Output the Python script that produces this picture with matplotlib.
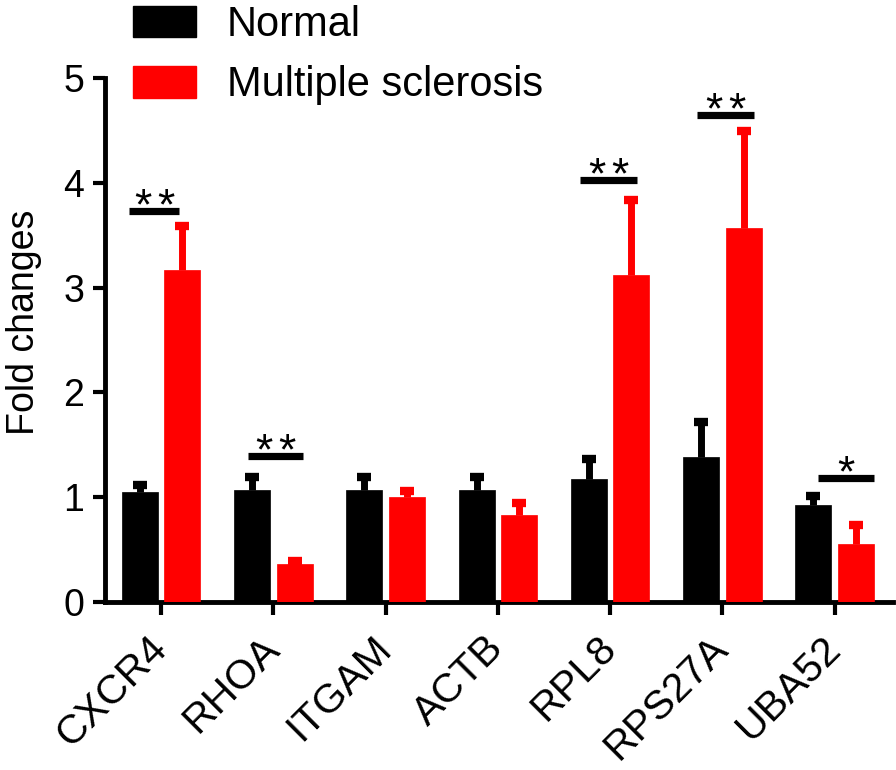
import numpy as np
import matplotlib
matplotlib.use("Agg")
import matplotlib.pyplot as plt
from matplotlib.patches import Patch

plt.rcParams['font.family'] = ['Liberation Sans', 'DejaVu Sans']

genes = ["CXCR4", "RHOA", "ITGAM", "ACTB", "RPL8", "RPS27A", "UBA52"]
normal = [1.05, 1.07, 1.07, 1.07, 1.17, 1.38, 0.93]
normal_err = [0.07, 0.12, 0.12, 0.12, 0.19, 0.34, 0.08]
ms = [3.17, 0.36, 1.00, 0.83, 3.12, 3.57, 0.55]
ms_err = [0.42, 0.03, 0.06, 0.11, 0.72, 0.92, 0.18]
series_names = ["Normal", "Multiple sclerosis"]
yticks = [0, 1, 2, 3, 4, 5]

# significance annotations: gene index, bar height, number of stars, left/right extent
sig_idx = [0, 1, 4, 5, 6]
sig_y = [3.73, 1.39, 4.03, 4.65, 1.18]
sig_stars = [2, 2, 2, 2, 1]
sig_left = [-0.285, -0.23, -0.27, -0.23, -0.15]
sig_right = [0.16, 0.26, 0.24, 0.28, 0.35]

fig = plt.figure(figsize=(8.96, 7.70), dpi=100)
ax = fig.add_axes([105/896, 1-602/770, (893-105)/896, (602-78)/770])

x = np.arange(len(genes))
w = 0.32
off = 0.19
cols = ["black", "#ff0000"]
for vals, errs, sgn, c in [(normal, normal_err, -1, cols[0]), (ms, ms_err, 1, cols[1])]:
    xs = x + sgn * off
    vals = np.array(vals); errs = np.array(errs)
    ax.vlines(xs, vals, vals + errs, colors=c, linewidth=5, zorder=2)
    ax.plot(xs, vals + errs, linestyle='none', marker='_', markersize=9.5,
            markeredgewidth=6, color=c, zorder=2)
    ax.bar(xs, vals, width=w, color=c, edgecolor=c, linewidth=0.5, zorder=3)

for i, yv, n, l, r in zip(sig_idx, sig_y, sig_stars, sig_left, sig_right):
    ax.plot([i + l, i + r], [yv, yv], color='black', linewidth=5.2,
            solid_capstyle='butt', zorder=4)
    cx = (2 * i + l + r) / 2
    offs = [-8.3, 8.3] if n == 2 else [0]
    for dx in offs:
        ax.annotate("*", xy=(cx, yv), xytext=(dx, -6),
                    textcoords='offset points', ha='center', va='baseline',
                    fontsize=32)

ax.set_xlim(-0.5, 6.52)
ax.set_ylim(0, 5)
ax.set_yticks(yticks)
ax.set_xticks(x)
ax.set_xticklabels(genes, rotation=45, ha='right', va='center',
                   rotation_mode='anchor', fontsize=29.5)
ax.tick_params(axis='y', labelsize=27, length=9, width=3, pad=6)
ax.tick_params(axis='x', length=9, width=3, pad=20)
for s in ['top', 'right']:
    ax.spines[s].set_visible(False)
for s in ['left', 'bottom']:
    ax.spines[s].set_linewidth(3.5)
ax.set_ylabel("Fold changes", fontsize=27)
ax.yaxis.set_label_coords(-0.080, 0.534)

handles = [Patch(facecolor=cols[0], edgecolor=cols[0]),
           Patch(facecolor=cols[1], edgecolor=cols[1])]
fig.legend(handles, series_names, loc='upper left',
           bbox_to_anchor=(133/896, 1 - 5/770), frameon=False,
           fontsize=30, handlelength=1.5, handleheight=0.8,
           handletextpad=0.75, labelspacing=0.49, borderpad=0,
           borderaxespad=0)

fig.savefig("out.png", dpi=100)
